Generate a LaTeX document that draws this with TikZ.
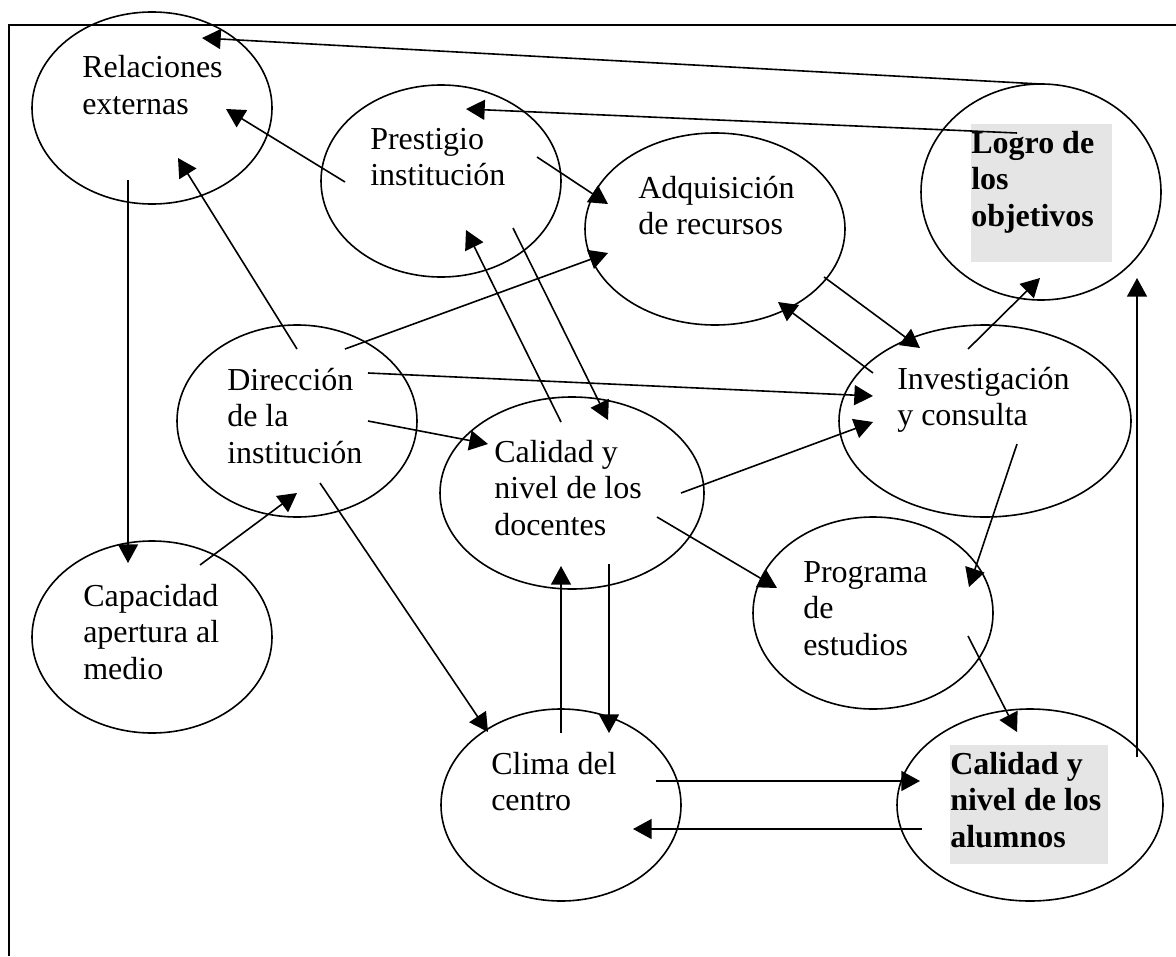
\documentclass[tikz,border=0pt]{standalone}
\usepackage{fontspec}
\setmainfont{Liberation Serif}
\usetikzlibrary{shapes.geometric,arrows.meta,calc}
\definecolor{greybox}{RGB}{229,229,229}
\newcommand{\mystack}[1]{\vtop{\baselineskip=27.5pt\halign{##\hfil\cr#1\crcr}}}
\begin{document}
\begin{tikzpicture}[x=0.75pt,y=-0.75pt,
  ell/.style={draw, ellipse, line width=1.2pt, inner sep=0pt},
  txt/.style={anchor=base west, inner sep=0pt, font=\fontsize{24}{27.5}\selectfont},
  btxt/.style={txt, font=\fontsize{24}{27.5}\selectfont\bfseries},
  gbox/.style={fill=greybox, draw=none, inner sep=0pt},
  conn/.style={line width=1.2pt, -{Triangle[length=14pt,width=15pt]}},
  frame/.style={line width=1.2pt}]
\useasboundingbox (0,0) rectangle (1176,956);
% frame
\draw[frame] (1176,25) -- (9,25) -- (9,956);
% grey highlight boxes
\node[gbox, minimum width=105.75pt, minimum height=103.5pt] (logB) at (1041.5,193) {};
\node[gbox, minimum width=118.5pt, minimum height=89.25pt] (aluB) at (1029,804.5) {};
% ellipses
\node[ell, minimum width=180pt, minimum height=144pt] (rel) at (152,108) {};
\node[ell, minimum width=180pt, minimum height=144pt] (pre) at (441,181) {};
\node[ell, minimum width=195pt, minimum height=144pt] (adq) at (715,229) {};
\node[ell, minimum width=180pt, minimum height=162pt] (log) at (1041,192) {};
\node[ell, minimum width=180pt, minimum height=144pt] (dir) at (297,421) {};
\node[ell, minimum width=198pt, minimum height=144pt] (doc) at (572,493) {};
\node[ell, minimum width=219pt, minimum height=144pt] (inv) at (985,421) {};
\node[ell, minimum width=180pt, minimum height=144pt] (cap) at (152,637) {};
\node[ell, minimum width=180pt, minimum height=144pt] (pro) at (873,613) {};
\node[ell, minimum width=180pt, minimum height=144pt] (cli) at (561,805) {};
\node[ell, minimum width=199.5pt, minimum height=144pt] (alu) at (1030,805) {};
% texts
\node[txt] (relT) at (82,78) {\mystack{Relaciones\cr externas}};
\node[txt] (preT) at (370,149) {\mystack{Prestigio\cr institución}};
\node[txt] (adqT) at (638,198) {\mystack{Adquisición\cr de recursos}};
\node[btxt] (logT) at (971,153) {\mystack{Logro de\cr los\cr objetivos}};
\node[txt] (dirT) at (227,390) {\mystack{Dirección\cr de la\cr institución}};
\node[txt] (docT) at (494,462) {\mystack{Calidad y\cr nivel de los\cr docentes}};
\node[txt] (invT) at (897,389) {\mystack{Investigación\cr y consulta}};
\node[txt] (capT) at (83,606) {\mystack{Capacidad\cr apertura al\cr medio}};
\node[txt] (proT) at (803,582) {\mystack{Programa\cr de\cr estudios}};
\node[txt] (cliT) at (491,774) {\mystack{Clima del\cr centro}};
\node[btxt] (aluT) at (950,774) {\mystack{Calidad y\cr nivel de los\cr alumnos}};
% connectors
\draw[conn] ($(log)+(-1,-108)$) -- ($(rel)+(50,-70)$);
\draw[conn] ($(log)+(-24,-59)$) -- ($(pre)+(25,-72)$);
\draw[conn] ($(pre)+(-96,1)$) -- ($(rel)+(74,1)$);
\draw[conn] ($(dir)+(0,-72)$) -- ($(rel)+(26,50)$);
\draw[conn] ($(rel)+(-24,72)$) -- ($(cap)+(-24,-74)$);
\draw[conn] ($(cap)+(48,-72)$) -- ($(dir)+(0,72)$);
\draw[conn] ($(dir)+(23,62)$) -- ($(cli)+(-73,-73)$);
\draw[conn] ($(dir)+(48,-72)$) -- ($(adq)+(-107,24)$);
\draw[conn] ($(dir)+(71,-48)$) -- ($(inv)+(-112,-25)$);
\draw[conn] ($(dir)+(71,0)$) -- ($(doc)+(-84,-49)$);
\draw[conn] ($(pre)+(96,-24)$) -- ($(adq)+(-107,-25)$);
\draw[conn] ($(doc)+(-11,-71)$) -- ($(pre)+(25,49)$);
\draw[conn] ($(pre)+(72,47)$) -- ($(doc)+(36,-73)$);
\draw[conn] ($(adq)+(109,48)$) -- ($(inv)+(-65,-73)$);
\draw[conn] ($(inv)+(-112,-48)$) -- ($(adq)+(63,73)$);
\draw[conn] ($(inv)+(-17,-72)$) -- ($(log)+(-1,86)$);
\draw[conn] ($(doc)+(109,0)$) -- ($(inv)+(-112,1)$);
\draw[conn] ($(doc)+(85,24)$) -- ($(pro)+(-96,-25)$);
\draw[conn] ($(inv)+(32,23)$) -- ($(pro)+(96,-26)$);
\draw[conn] ($(pro)+(95,23)$) -- ($(alu)+(-13,-73)$);
\draw[conn] ($(alu)+(107,-48)$) -- ($(log)+(96,86)$);
\draw[conn] ($(doc)+(37,71)$) -- ($(cli)+(48,-72)$);
\draw[conn] ($(cli)+(0,-72)$) -- ($(doc)+(-11,73)$);
\draw[conn] ($(cli)+(95,-24)$) -- ($(alu)+(-110,-24)$);
\draw[conn] ($(alu)+(-108,24)$) -- ($(cli)+(72,24)$);
\end{tikzpicture}
\end{document}
